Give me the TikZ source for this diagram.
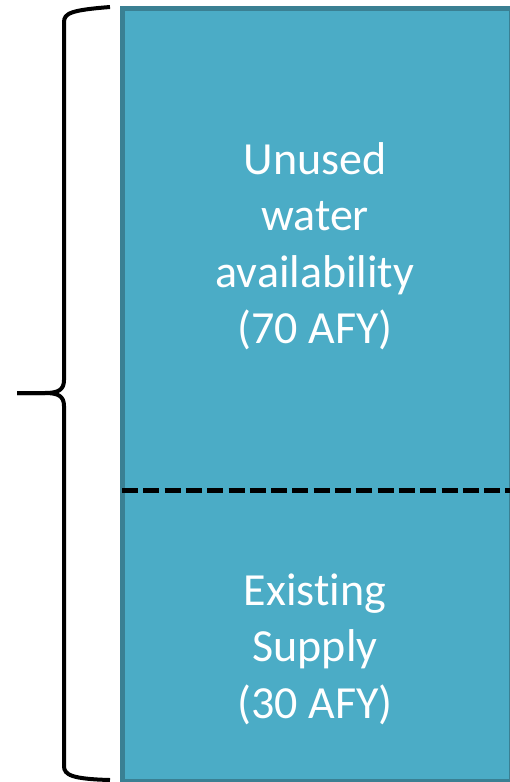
\documentclass[tikz,border=0pt]{standalone}
\usepackage{fontspec}
\setmainfont{Carlito}[Ligatures=CommonOff]
\definecolor{aqua}{HTML}{4BACC6}
\definecolor{aquaedge}{HTML}{3A8093}
\tikzset{
  px/.style={x=1pt,y=1pt},
  panel/.style={fill=aqua,draw=aquaedge,line width=5pt},
  divider/.style={line width=5pt,dash pattern=on 16pt off 5.3pt,line cap=butt},
  bracepath/.style={line width=4pt,line join=round},
  label/.style={text=white,align=center,inner sep=0pt,font=\fontsize{46}{56.5}\selectfont}
}
\begin{document}
\begin{tikzpicture}[px]
\useasboundingbox (0,0) rectangle (510,-782);
\clip (0,0) rectangle (510,-782);
% panel
\node[panel,minimum width=389.5pt,minimum height=773pt,inner sep=0pt,anchor=north west] (box) at (119.5,-6) {};
% divider with faint shadow
\coordinate (dl) at (122,-490.8);
\coordinate (dr) at (512,-490.8);
\draw[divider,draw=aquaedge,opacity=0.3,yshift=-3pt] (dl) -- (dr);
\draw[divider] (dl) -- (dr);
% brace
\coordinate (btop) at (110,-7);
\coordinate (bbot) at (110,-780);
\coordinate (btip) at (17,-393);
\draw[bracepath] (btop) .. controls (72,-10) and (64,-13) .. (64,-22)
  -- (64,-380) .. controls (64,-390) and (58,-393) .. (45,-393) -- (btip);
\draw[bracepath] (btip) -- (45,-393) .. controls (58,-393) and (64,-396) .. (64,-406)
  -- (64,-766) .. controls (64,-775) and (72,-779) .. (bbot);
% labels
\node[label] (unused) at (315,-246) {Unused\\water\\availability\\(70 AFY)};
\node[label] (existing) at (315,-649) {Existing\\Supply\\(30 AFY)};
\end{tikzpicture}
\end{document}
